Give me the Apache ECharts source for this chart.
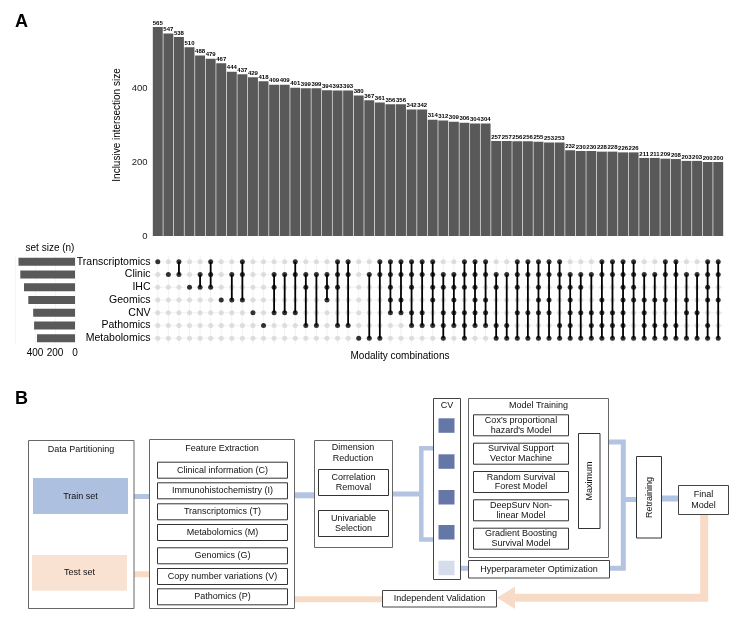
<!DOCTYPE html>
<html><head><meta charset="utf-8">
<script src="https://cdn.jsdelivr.net/npm/echarts@6/dist/echarts.min.js"></script>
<style>html,body{margin:0;padding:0;background:#fff}#c{width:742px;height:629px}</style>
</head><body><div id="c"></div>
<script>
// ---------- data ----------
const setNames = ['Transcriptomics','Clinic','IHC','Geomics','CNV','Pathomics','Metabolomics'];
const setLetters = ['T','C','I','G','V','P','M'];
const setSizes = [565, 547, 510, 467, 418, 409, 380];
const comboSizes = [565,547,538,510,488,479,467,444,437,429,418,409,409,401,399,399,394,393,393,380,
  367,361,356,356,342,342,314,312,309,306,304,304,257,257,256,256,255,253,253,232,
  230,230,228,228,226,226,211,211,209,208,203,203,200,200];
const combos = ['T','C','TC','I','CI','TCI','G','CG','TCG','V','P','CIV','CV','TCV','CIP','CP','CIG','TCIP','TCP','M',
  'CM','TCM','TCIGV','TCGV','TCIVP','TCVP','TCIGP','CIVPM','CIGVP','TCIVPM','TCIGVP','TCGVP','CIPM','CPM','TCIVM','TCVM','TCIGVM','TCGVM','TCIPM','CIGVPM',
  'CIVM','CVPM','TCGVPM','TCVPM','TCIGVPM','TCIGM','CGVPM','CGPM','TCGPM','TCPM','CGVM','CVM','TCIGPM','TCGM'];
const yTicks = [0, 200, 400];

const partTexts = ['Data Partitioning','Train set','Test set'];
const featureTitle = 'Feature Extraction';
const featureItems = ['Clinical information (C)','Immunohistochemistry (I)','Transcriptomics (T)','Metabolomics (M)','Genomics (G)','Copy number variations (V)','Pathomics (P)'];
const dimTexts = ['Dimension\nReduction','Correlation\nRemoval','Univariable\nSelection'];
const modelTitle = 'Model Training';
const modelItems = ["Cox's proportional\nhazard's Model","Survival Support\nVector Machine","Random Survival\nForest Model","DeepSurv Non-\nlinear Model","Gradient Boosting\nSurvival Model"];
const otherTexts = {cv:'CV', hyper:'Hyperparameter Optimization', max:'Maximum', retrain:'Retraining', fin:'Final\nModel', indep:'Independent Validation'};

// ---------- derived ----------
const cats = combos.map((c,i)=>String(i));
const F = '"Liberation Sans", Arial, sans-serif';
const greyDots = [], blackDots = [], segs = [];
combos.forEach((c,i)=>{
  const rows = [];
  setLetters.forEach((l,r)=>{ if (c.indexOf(l) >= 0) rows.push(r); else greyDots.push([i,r]); });
  rows.forEach(r=>blackDots.push([i,r]));
  if (rows.length > 1) segs.push([i, Math.min(...rows), Math.max(...rows)]);
});

// ---------- panel B helpers ----------
const BLUE = '#b3c3e2', PEACH = '#f8dbc6';
function rect(x,y,w,h,st){return {type:'rect',shape:{x:x,y:y,width:w,height:h},style:Object.assign({fill:'none',stroke:'#555',lineWidth:1},st||{})};}
function txt(x,y,t,size,extra,rot){
  const s=size||9;
  const el={type:'text',x:x,y:y,style:{text:t,fill:'#111',fontSize:s,fontFamily:F,align:'center',verticalAlign:'middle',lineHeight:s*1.15}};
  if(extra) Object.assign(el.style,extra);
  if(rot) el.rotation=rot;
  return el;
}
function band(pts,color,w){return {type:'polyline',shape:{points:pts},style:{stroke:color,lineWidth:w,fill:null,lineJoin:'miter',lineCap:'butt'}};}

const g = [];
g.push(txt(15,12,'A',18,{fontWeight:'bold',align:'left',verticalAlign:'top',fill:'#000'}));
g.push(txt(15,389,'B',18,{fontWeight:'bold',align:'left',verticalAlign:'top',fill:'#000'}));
g.push(txt(50,248,'set size (n)',10,{fill:'#000'}));
g.push(txt(400,356,'Modality combinations',10,{fill:'#000'}));

// connectors
g.push(band([[134,496.5],[150,496.5]],BLUE,5));
g.push(band([[294.7,495.3],[314.3,495.3]],BLUE,6));
g.push(band([[392.3,494],[421.3,494]],BLUE,5));
g.push(band([[433.3,448.3],[421.3,448.3],[421.3,539.5],[433.3,539.5]],BLUE,4.5));
g.push(band([[460.7,568.3],[468.3,568.3]],BLUE,5));
g.push(band([[608.3,442],[623.3,442],[623.3,568.3],[609.3,568.3]],BLUE,5));
g.push(band([[623.3,499.5],[636.7,499.5]],BLUE,5));
g.push(band([[661.7,498.5],[678.3,498.5]],BLUE,6));
g.push(band([[134,574.3],[150,574.3]],PEACH,6));
g.push(band([[294.7,599.2],[382.3,599.2]],PEACH,6));
g.push(band([[704.2,514.3],[704.2,597.7],[512,597.7]],PEACH,8));
g.push({type:'polygon',shape:{points:[[515,586.5],[497,597.7],[515,609]]},style:{fill:PEACH}});

// Data partitioning
g.push(rect(28.5,440.5,105.5,168,{stroke:'#666'}));
g.push(txt(81,449.5,partTexts[0],9));
g.push(rect(33,478,95,36,{fill:'#aec0e0',stroke:null}));
g.push(txt(80.5,497,partTexts[1],9));
g.push(rect(32,555,95,35.7,{fill:'#fae2d3',stroke:null}));
g.push(txt(79.5,573,partTexts[2],9));

// Feature extraction
g.push(rect(149.5,439.5,145,169,{stroke:'#666'}));
g.push(txt(222,448.5,featureTitle,9));
const featY = [461.7,482.3,503.3,524,547.3,568,588.3];
featureItems.forEach((t,i)=>{
  g.push(rect(157.5,featY[i]+0.5,130,16,{stroke:'#333',fill:'#fff'}));
  g.push(txt(222.5,featY[i]+8.5,t,9));
});

// Dimension reduction
g.push(rect(314.5,440.5,78,107,{stroke:'#666'}));
g.push(txt(353,453,dimTexts[0],9));
g.push(rect(318.5,469.5,70,26,{stroke:'#333',fill:'#fff'}));
g.push(txt(353.5,482.5,dimTexts[1],9));
g.push(rect(318.5,510.5,70,26,{stroke:'#333',fill:'#fff'}));
g.push(txt(353.5,523.7,dimTexts[2],9));

// CV
g.push(rect(433.5,398.5,27,181,{stroke:'#444'}));
g.push(txt(447,405.5,otherTexts.cv,9));
[418.3,454.3,490,525].forEach(y=>g.push(rect(438.5,y,16,14.5,{fill:'#6577a7',stroke:null})));
g.push(rect(438.5,560.7,16,14.5,{fill:'#d5dcec',stroke:null}));

// Model training
g.push(rect(468.5,398.5,140,159,{stroke:'#666'}));
g.push(txt(538.5,406,modelTitle,9));
const modY = [414.3,442.7,471,499.3,527.7];
modelItems.forEach((t,i)=>{
  g.push(rect(473.5,modY[i]+0.5,95,21,{stroke:'#333',fill:'#fff'}));
  g.push(txt(521,modY[i]+11,t,9,{lineHeight:9.5}));
});
g.push(rect(578.5,433.5,21.5,95,{stroke:'#333',fill:'#fff'}));
g.push(txt(589.3,481,otherTexts.max,9,null,Math.PI/2));
g.push(rect(468.5,560.5,141,17.5,{stroke:'#444',fill:'#fff'}));
g.push(txt(539,569.5,otherTexts.hyper,9));

// Retraining / final
g.push(rect(636.5,456.5,25,81.5,{stroke:'#333',fill:'#fff'}));
g.push(txt(649.2,497.5,otherTexts.retrain,9,null,Math.PI/2));
g.push(rect(678.5,485.5,50,29,{stroke:'#444',fill:'#fff'}));
g.push(txt(703.5,500,otherTexts.fin,9,{lineHeight:10.5}));
g.push(rect(382.5,590.5,114,16.5,{stroke:'#444',fill:'#fff'}));
g.push(txt(439.5,598.8,otherTexts.indep,9));

// ---------- chart ----------
const chart = echarts.init(document.getElementById('c'), null, {renderer:'canvas'});
const hidden = {axisLine:{show:false},axisTick:{show:false},axisLabel:{show:false},splitLine:{show:false}};
const option = {
  animation:false,
  backgroundColor:'#fff',
  textStyle:{fontFamily:F},
  grid:[
    {left:152.5, width:571, top:14, height:222},
    {left:152.5, width:571, top:255.5, height:89},
    {left:15, width:60, top:255.5, height:89}
  ],
  xAxis:[
    Object.assign({type:'category',gridIndex:0,data:cats},hidden),
    Object.assign({type:'category',gridIndex:1,data:cats},hidden),
    {type:'value',gridIndex:2,min:0,max:600,interval:200,inverse:true,
      axisLine:{show:false},axisTick:{show:false},
      axisLabel:{fontSize:10,color:'#000',margin:4,showMaxLabel:false,fontFamily:F},
      splitLine:{show:true,lineStyle:{color:'#f2f2f2',width:0.8}}}
  ],
  yAxis:[
    {type:'value',gridIndex:0,min:0,max:600,interval:200,
      name:'Inclusive intersection size',nameLocation:'middle',nameGap:30,nameMoveOverlap:false,
      nameTextStyle:{fontSize:10,color:'#000',fontFamily:F},
      axisLine:{show:false},axisTick:{show:false},
      axisLabel:{fontSize:9.5,color:'#222',margin:5,showMaxLabel:false,fontFamily:F,
        formatter:v=>yTicks.indexOf(v)>=0?String(v):''},
      splitLine:{show:false}},
    {type:'category',gridIndex:1,data:setNames,inverse:true,
      axisLine:{show:false},axisTick:{show:false},splitLine:{show:false},
      axisLabel:{interval:0,fontSize:10.5,color:'#000',margin:2,fontFamily:F}},
    Object.assign({type:'category',gridIndex:2,data:setNames,inverse:true},hidden)
  ],
  series:[
    {type:'bar',xAxisIndex:0,yAxisIndex:0,data:comboSizes,barCategoryGap:'6%',
      itemStyle:{color:'#595959'},
      label:{show:true,position:'top',distance:1,fontSize:6,fontWeight:'bold',color:'#000',fontFamily:F}},
    {type:'custom',xAxisIndex:1,yAxisIndex:1,silent:true,z:1,
      data:cats.map((c,i)=>[i,0]),
      renderItem:(params,api)=>{
        const cs=params.coordSys; const x=api.coord([api.value(0),0])[0];
        return {type:'line',shape:{x1:x,y1:cs.y,x2:x,y2:cs.y+cs.height},style:{stroke:'#efefef',lineWidth:0.8}};
      }},
    {type:'custom',xAxisIndex:1,yAxisIndex:1,silent:true,z:1,
      data:setNames.map((s,i)=>[0,i]),
      renderItem:(params,api)=>{
        const cs=params.coordSys; const y=api.coord([0,api.value(1)])[1];
        return {type:'line',shape:{x1:cs.x,y1:y,x2:cs.x+cs.width,y2:y},style:{stroke:'#efefef',lineWidth:0.8}};
      }},
    {type:'scatter',xAxisIndex:1,yAxisIndex:1,data:greyDots,symbolSize:5,z:2,
      itemStyle:{color:'#d6d6d6'}},
    {type:'custom',xAxisIndex:1,yAxisIndex:1,z:3,data:segs,encode:{x:0,y:[1,2]},
      renderItem:(params,api)=>{
        const a=api.coord([api.value(0),api.value(1)]), b=api.coord([api.value(0),api.value(2)]);
        return {type:'line',shape:{x1:a[0],y1:a[1],x2:b[0],y2:b[1]},style:{stroke:'#000',lineWidth:1.8}};
      }},
    {type:'scatter',xAxisIndex:1,yAxisIndex:1,data:blackDots,symbolSize:5,z:4,
      itemStyle:{color:'#000'}},
    {type:'bar',xAxisIndex:2,yAxisIndex:2,data:setSizes,barWidth:8,itemStyle:{color:'#595959'}}
  ],
  graphic:{elements:g}
};
chart.setOption(option);
</script></body></html>
